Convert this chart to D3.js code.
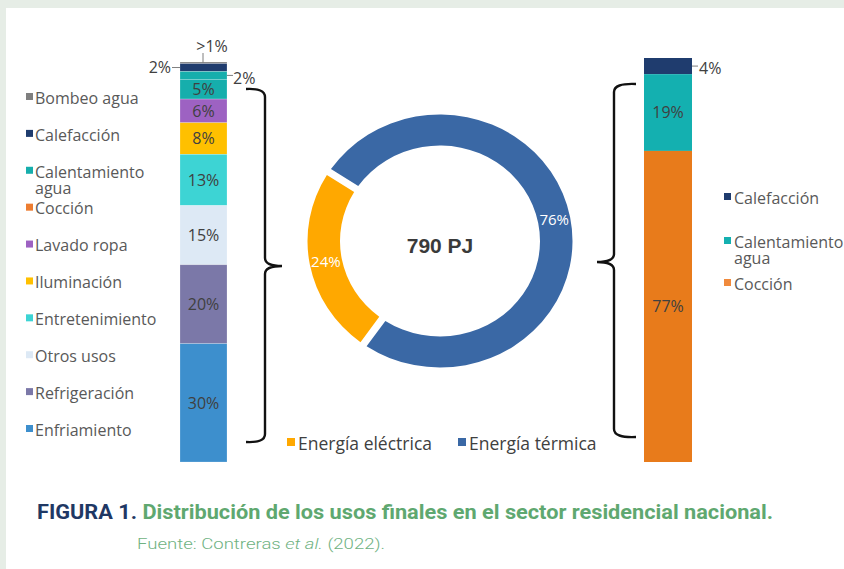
<!DOCTYPE html>
<html>
<head>
<meta charset="utf-8">
<script src="https://cdn.jsdelivr.net/npm/d3@7"></script>
<style>
  body { margin: 0; background: #e6ede6; }
  svg { display: block; font-family: "Open Sans", "Noto Sans", sans-serif; }
</style>
</head>
<body>
<svg id="chart" width="844" height="569"></svg>
<script>
// left stacked bar: all residential end uses (top to bottom)
const leftCats = ["Bombeo agua", "Calefacción", "Calentamiento agua", "Cocción", "Lavado ropa",
  "Iluminación", "Entretenimiento", "Otros usos", "Refrigeración", "Enfriamiento"];
const leftValues = [0.4, 2, 2, 5, 6, 8, 13, 15, 20, 30];
const leftLabels = [">1%", "2%", "2%", "5%", "6%", "8%", "13%", "15%", "20%", "30%"];
const leftColors = ["#7f7f7f", "#1f3c6e", "#16aeac", "#16aeac", "#9d62c2",
  "#ffc000", "#3dd4d4", "#dde9f5", "#7b78a8", "#3d8fcd"];
const leftLegendColors = ["#7f7f7f", "#1f3c6e", "#16aeac", "#ed7d31", "#9d62c2",
  "#ffc000", "#3dd4d4", "#dde9f5", "#7b78a8", "#3d8fcd"];

// right stacked bar: thermal energy uses
const rightCats = ["Calefacción", "Calentamiento agua", "Cocción"];
const rightValues = [4, 19, 77];
const rightLabels = ["4%", "19%", "77%"];
const rightColors = ["#1f3c6e", "#14b0b0", "#e87b1b"];
const rightLegendColors = ["#1f3c6e", "#14b0b0", "#f08a3c"];

// donut: energy type
const energyCats = ["Energía térmica", "Energía eléctrica"];
const energyValues = [76, 24];
const energyColors = ["#3a68a5", "#ffa800"];
const totalLabel = "790 PJ";

const svg = d3.select("#chart");
const textColor = "#404040";
const legendText = "#595959";
const fs = 16;

// white panel
svg.append("rect").attr("x", 6).attr("y", 8).attr("width", 838).attr("height", 561).attr("fill", "#fff");

// ---- left bar
const yL = d3.scaleLinear().domain([0, d3.sum(leftValues)]).range([62, 462]);
const leftCum = [0, ...d3.cumsum(leftValues)];
const barL = { x: 180, w: 47 };

const gL = svg.append("g");
gL.selectAll("rect")
  .data(leftValues)
  .join("rect")
  .attr("x", barL.x)
  .attr("width", barL.w)
  .attr("y", (d, i) => yL(leftCum[i]))
  .attr("height", (d, i) => yL(leftCum[i + 1]) - yL(leftCum[i]))
  .attr("fill", (d, i) => leftColors[i])
  .attr("stroke", "rgba(255,255,255,0.35)")
  .attr("stroke-width", 0.6);

// labels inside bigger segments
gL.selectAll("text.in")
  .data(leftValues.map((v, i) => i).filter((i) => leftValues[i] >= 5))
  .join("text")
  .attr("class", "in")
  .attr("x", barL.x + barL.w / 2)
  .attr("y", (i) => (yL(leftCum[i]) + yL(leftCum[i + 1])) / 2)
  .attr("dy", "0.36em")
  .attr("text-anchor", "middle")
  .attr("font-size", fs)
  .attr("fill", textColor)
  .text((i) => leftLabels[i]);

// small segment labels with leader lines
const mid = (i) => (yL(leftCum[i]) + yL(leftCum[i + 1])) / 2;
const lead = gL.append("g").attr("stroke", "#7f7f7f").attr("stroke-width", 1);
lead.append("line").attr("x1", 203).attr("x2", 203).attr("y1", 53).attr("y2", yL(0) + 1);
lead.append("line").attr("x1", 172).attr("x2", barL.x).attr("y1", mid(1)).attr("y2", mid(1));
lead.append("line").attr("x1", barL.x + barL.w).attr("x2", barL.x + barL.w + 6).attr("y1", mid(2)).attr("y2", mid(2));
gL.append("text").attr("x", 212).attr("y", 52).attr("text-anchor", "middle")
  .attr("font-size", fs).attr("fill", textColor).text(leftLabels[0]);
gL.append("text").attr("x", 171).attr("y", mid(1)).attr("dy", "0.36em").attr("text-anchor", "end")
  .attr("font-size", fs).attr("fill", textColor).text(leftLabels[1]);
gL.append("text").attr("x", barL.x + barL.w + 6).attr("y", mid(2) + 3).attr("dy", "0.36em")
  .attr("font-size", fs).attr("fill", textColor).text(leftLabels[2]);

// left legend
const legL = svg.append("g");
const legLy = d3.scalePoint().domain(leftCats).range([98, 430]);
leftCats.forEach((c, i) => {
  const y = legLy(c);
  legL.append("rect").attr("x", 26).attr("y", y - 5).attr("width", 7).attr("height", 7)
    .attr("fill", leftLegendColors[i]);
  const t = legL.append("text").attr("x", 35).attr("y", y).attr("dy", "0.36em")
    .attr("font-size", fs).attr("fill", legendText);
  if (c === "Calentamiento agua") {
    t.append("tspan").text("Calentamiento");
    t.append("tspan").attr("x", 35).attr("dy", 16).text("agua");
  } else t.text(c);
});

// ---- braces
function brace(xEnd, xSpine, xTip, y0, yMid, y1) {
  const r = 8;
  const p = d3.path();
  p.moveTo(xEnd, y0);
  p.quadraticCurveTo(xSpine, y0 - 1, xSpine, y0 + r);
  p.lineTo(xSpine, yMid - r);
  p.quadraticCurveTo(xSpine, yMid, xTip, yMid);
  p.quadraticCurveTo(xSpine, yMid, xSpine, yMid + r);
  p.lineTo(xSpine, y1 - r);
  p.quadraticCurveTo(xSpine, y1 + 1, xEnd, y1);
  return p.toString();
}
svg.append("path").attr("d", brace(246, 265, 282, 89, 266, 442))
  .attr("fill", "none").attr("stroke", "#111").attr("stroke-width", 2.4);
svg.append("path").attr("d", brace(636, 614, 597, 84, 262, 437))
  .attr("fill", "none").attr("stroke", "#111").attr("stroke-width", 2.4);

// ---- donut
const cx = 440, cy = 241;
const pie = d3.pie().sort(null)
  .startAngle(-57 * Math.PI / 180)
  .endAngle(303 * Math.PI / 180)
  .padAngle(0.045);
const arcs = pie(energyValues);
const arc = d3.arc().innerRadius(100).outerRadius(132.5);
const gD = svg.append("g").attr("transform", `translate(${cx},${cy})`);
gD.append("g").attr("transform", "scale(1,0.955)")
  .selectAll("path")
  .data(arcs)
  .join("path")
  .attr("d", arc)
  .attr("fill", (d, i) => energyColors[i]);
gD.selectAll("text.pct")
  .data(arcs)
  .join("text")
  .attr("class", "pct")
  .attr("transform", (d) => {
    const [x, y] = arc.centroid(d);
    return `translate(${x},${y * 0.955})`;
  })
  .attr("dy", "0.36em")
  .attr("text-anchor", "middle")
  .attr("font-size", 15)
  .attr("fill", "#fff")
  .text((d) => d.value + "%");
gD.append("text").attr("y", 4).attr("dy", "0.36em").attr("text-anchor", "middle")
  .attr("font-family", "Liberation Sans, Arial, sans-serif")
  .attr("font-weight", "bold").attr("font-size", 21).attr("fill", "#3a3a3a")
  .text(totalLabel);

// donut legend
const legD = svg.append("g");
const legDx = [287, 458];
[1, 0].forEach((i, k) => {
  legD.append("rect").attr("x", legDx[k]).attr("y", 438).attr("width", 8).attr("height", 8)
    .attr("fill", energyColors[i]);
  legD.append("text").attr("x", legDx[k] + 11).attr("y", 444).attr("dy", "0.36em")
    .attr("font-size", 17.5).attr("fill", textColor).text(energyCats[i]);
});

// ---- right bar
const yR = d3.scaleLinear().domain([0, d3.sum(rightValues)]).range([58, 462]);
const rightCum = [0, ...d3.cumsum(rightValues)];
const barR = { x: 644, w: 48 };
const gR = svg.append("g");
gR.selectAll("rect")
  .data(rightValues)
  .join("rect")
  .attr("x", barR.x)
  .attr("width", barR.w)
  .attr("y", (d, i) => yR(rightCum[i]))
  .attr("height", (d, i) => yR(rightCum[i + 1]) - yR(rightCum[i]))
  .attr("fill", (d, i) => rightColors[i]);
const midR = (i) => (yR(rightCum[i]) + yR(rightCum[i + 1])) / 2;
gR.selectAll("text.in")
  .data([1, 2])
  .join("text")
  .attr("class", "in")
  .attr("x", barR.x + barR.w / 2)
  .attr("y", (i) => midR(i))
  .attr("dy", "0.36em")
  .attr("text-anchor", "middle")
  .attr("font-size", fs)
  .attr("fill", textColor)
  .text((i) => rightLabels[i]);
gR.append("line").attr("x1", barR.x + barR.w).attr("x2", barR.x + barR.w + 6)
  .attr("y1", midR(0)).attr("y2", midR(0)).attr("stroke", "#7f7f7f");
gR.append("text").attr("x", barR.x + barR.w + 7).attr("y", midR(0) + 2).attr("dy", "0.36em")
  .attr("font-size", fs).attr("fill", textColor).text(rightLabels[0]);

// right legend
const legRy = [198, 242, 284];
rightCats.forEach((c, i) => {
  svg.append("rect").attr("x", 724).attr("y", legRy[i] - 5).attr("width", 7).attr("height", 7)
    .attr("fill", rightLegendColors[i]);
  const t = svg.append("text").attr("x", 734).attr("y", legRy[i]).attr("dy", "0.36em")
    .attr("font-size", fs).attr("fill", legendText);
  if (c === "Calentamiento agua") {
    t.append("tspan").text("Calentamiento");
    t.append("tspan").attr("x", 734).attr("dy", 16).text("agua");
  } else t.text(c);
});

// ---- caption
const cap = svg.append("text").attr("x", 37).attr("y", 519)
  .attr("font-family", "Roboto, sans-serif").attr("font-weight", "bold").attr("font-size", 20)
  .attr("textLength", 736).attr("lengthAdjust", "spacingAndGlyphs");
cap.append("tspan").attr("fill", "#1f3864").text("FIGURA 1. ");
cap.append("tspan").attr("fill", "#5fa870").text("Distribución de los usos finales en el sector residencial nacional.");
const src = svg.append("text").attr("x", 137).attr("y", 549)
  .attr("font-family", "Roboto, sans-serif").attr("font-weight", 300).attr("font-size", 14)
  .attr("fill", "#6fb282").attr("textLength", 248).attr("lengthAdjust", "spacingAndGlyphs");
src.append("tspan").text("Fuente: Contreras ");
src.append("tspan").attr("font-style", "italic").text("et al.");
src.append("tspan").text(" (2022).");
</script>
</body>
</html>
